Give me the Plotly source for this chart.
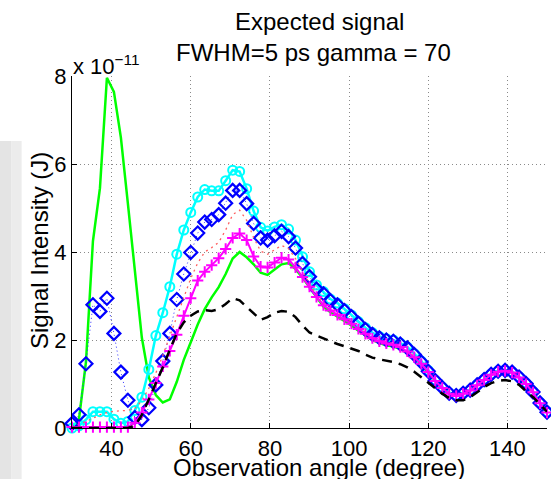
import plotly.graph_objects as go

# Observation angle (degree)
ANGLE = [30.00, 31.76, 33.53, 35.29, 37.06, 38.82, 40.59, 42.35, 44.12, 45.88,
         47.65, 49.41, 51.18, 52.94, 54.71, 56.47, 58.24, 60.00, 61.76, 63.53,
         65.29, 67.06, 68.82, 70.59, 72.35, 74.12, 75.88, 77.65, 79.41, 81.18,
         82.94, 84.71, 86.47, 88.24, 90.00, 91.76, 93.53, 95.29, 97.06, 98.82,
         100.59, 102.35, 104.12, 105.88, 107.65, 109.41, 111.18, 112.94, 114.71, 116.47,
         118.24, 120.00, 121.76, 123.53, 125.29, 127.06, 128.82, 130.59, 132.35, 134.12,
         135.88, 137.65, 139.41, 141.18, 142.94, 144.71, 146.47, 148.24, 150.00]

# Signal intensity, in units of 1e-11 J
GREEN = [0.00, 0.20, 1.50, 4.25, 5.45, 7.96, 7.64, 6.60, 5.10, 3.65,
         2.05, 1.15, 0.75, 0.58, 0.65, 1.05, 1.55, 1.95, 2.35, 2.70,
         2.97, 3.20, 3.50, 3.85, 4.00, 3.88, 3.72, 3.53, 3.48, 3.60,
         3.72, 3.75, 3.61, 3.42, 3.20, 3.00, 2.76, 2.63, 2.53, 2.43,
         2.33, 2.21, 2.10, 2.00, 1.93, 1.88, 1.85, 1.80, 1.70, 1.58,
         1.44, 1.26, 1.07, 0.91, 0.78, 0.73, 0.78, 0.85, 0.97, 1.09,
         1.21, 1.28, 1.30, 1.26, 1.15, 1.00, 0.81, 0.56, 0.35]

CYAN = [0.00, 0.05, 0.19, 0.37, 0.37, 0.37, 0.20, 0.11, 0.15, 0.40,
        0.70, 1.33, 2.10, 2.62, 3.21, 3.95, 4.50, 4.90, 5.25, 5.42,
        5.39, 5.39, 5.62, 5.86, 5.83, 5.44, 4.93, 4.56, 4.48, 4.57,
        4.62, 4.52, 4.27, 3.89, 3.55, 3.25, 3.10, 2.93, 2.84, 2.71,
        2.57, 2.42, 2.28, 2.17, 2.08, 2.03, 2.00, 1.93, 1.84, 1.69,
        1.52, 1.31, 1.09, 0.93, 0.80, 0.75, 0.80, 0.87, 0.99, 1.11,
        1.23, 1.30, 1.32, 1.28, 1.17, 1.02, 0.83, 0.58, 0.37]

BLUE = [0.10, 0.30, 1.46, 2.80, 2.65, 2.95, 2.15, 1.27, 0.63, 0.24,
        0.19, 0.46, 0.98, 1.52, 2.15, 2.92, 3.50, 3.99, 4.43, 4.68,
        4.74, 4.85, 5.11, 5.40, 5.40, 5.10, 4.65, 4.32, 4.27, 4.37,
        4.47, 4.35, 4.09, 3.74, 3.44, 3.16, 3.05, 2.89, 2.80, 2.67,
        2.53, 2.38, 2.24, 2.13, 2.05, 2.00, 1.97, 1.91, 1.82, 1.67,
        1.50, 1.29, 1.08, 0.92, 0.79, 0.74, 0.79, 0.86, 0.98, 1.10,
        1.22, 1.29, 1.31, 1.27, 1.16, 1.01, 0.82, 0.57, 0.36]

RED = [0.02, 0.08, 0.15, 0.22, 0.30, 0.35, 0.38, 0.39, 0.40, 0.45,
       0.62, 0.90, 1.25, 1.65, 2.10, 2.55, 3.00, 3.40, 3.75, 4.00,
       4.10, 4.22, 4.50, 4.85, 4.95, 4.72, 4.33, 4.02, 3.95, 4.05,
       4.15, 4.08, 3.85, 3.56, 3.28, 3.05, 2.85, 2.72, 2.63, 2.52,
       2.41, 2.29, 2.17, 2.07, 2.00, 1.95, 1.92, 1.87, 1.77, 1.63,
       1.47, 1.28, 1.07, 0.91, 0.78, 0.73, 0.78, 0.85, 0.97, 1.09,
       1.21, 1.28, 1.30, 1.26, 1.15, 1.00, 0.81, 0.56, 0.35]

MAGENTA = [0.02, 0.02, 0.02, 0.02, 0.02, 0.02, 0.02, 0.02, 0.02, 0.12,
           0.35, 0.65, 1.02, 1.40, 1.75, 2.12, 2.55, 2.95, 3.35, 3.55,
           3.70, 3.86, 4.07, 4.32, 4.42, 4.27, 3.90, 3.67, 3.65, 3.76,
           3.87, 3.83, 3.65, 3.43, 3.21, 2.98, 2.79, 2.67, 2.57, 2.47,
           2.37, 2.25, 2.14, 2.04, 1.97, 1.92, 1.89, 1.84, 1.74, 1.61,
           1.46, 1.27, 1.07, 0.91, 0.78, 0.73, 0.78, 0.85, 0.97, 1.09,
           1.21, 1.28, 1.30, 1.26, 1.15, 1.00, 0.81, 0.56, 0.35]

BLACK = [0.00, 0.00, 0.00, 0.00, 0.00, 0.00, 0.00, 0.00, 0.00, 0.05,
         0.30, 0.65, 1.00, 1.38, 1.78, 2.15, 2.40, 2.55, 2.65, 2.68,
         2.66, 2.70, 2.82, 2.95, 2.90, 2.75, 2.60, 2.46, 2.52, 2.62,
         2.66, 2.64, 2.52, 2.33, 2.17, 2.10, 2.03, 1.97, 1.91, 1.86,
         1.81, 1.75, 1.67, 1.60, 1.56, 1.53, 1.50, 1.45, 1.38, 1.28,
         1.15, 1.02, 0.90, 0.78, 0.68, 0.63, 0.63, 0.70, 0.81, 0.93,
         1.02, 1.07, 1.09, 1.06, 0.98, 0.85, 0.70, 0.54, 0.37]

X_TICKS = [40, 60, 80, 100, 120, 140]
Y_TICKS = [0, 2, 4, 6, 8]
TITLE_1 = "Expected signal"
TITLE_2 = "FWHM=5 ps gamma = 70"
X_LABEL = "Observation angle (degree)"
Y_LABEL = "Signal Intensity (J)"
EXPONENT = "x 10<sup>\u221211</sup>"

FONT = "Liberation Sans, Arial, Helvetica, sans-serif"

fig = go.Figure()
fig.add_trace(go.Scatter(x=ANGLE, y=GREEN, mode="lines",
                         line=dict(color="#00ff00", width=2.5)))
fig.add_trace(go.Scatter(x=ANGLE, y=CYAN, mode="lines+markers", cliponaxis=False,
                         line=dict(color="#00ffff", width=2.5),
                         marker=dict(symbol="circle-open", size=9, color="#00ffff",
                                     line=dict(width=2, color="#00ffff"))))
fig.add_trace(go.Scatter(x=ANGLE, y=BLUE, mode="lines+markers", cliponaxis=False,
                         line=dict(color="#3030ff", width=1, dash="1px,3px"),
                         marker=dict(symbol="diamond-open", size=10, color="#0000ff",
                                     line=dict(width=2.2, color="#0000ff"))))
fig.add_trace(go.Scatter(x=ANGLE, y=RED, mode="lines",
                         line=dict(color="#ff6060", width=1.3, dash="2px,4px")))
fig.add_trace(go.Scatter(x=ANGLE, y=MAGENTA, mode="lines+markers", cliponaxis=False,
                         line=dict(color="#ff00ff", width=2),
                         marker=dict(symbol="cross-thin-open", size=8, color="#ff00ff",
                                     line=dict(width=2, color="#ff00ff"))))
fig.add_trace(go.Scatter(x=ANGLE, y=BLACK, mode="lines",
                         line=dict(color="#000000", width=2.5, dash="10px,7px")))

axis_common = dict(
    showgrid=True, gridcolor="#8a8a8a", gridwidth=1, griddash="1px,3px",
    zeroline=False, showline=True, linecolor="black", linewidth=1.2,
    ticks="inside", ticklen=5, tickcolor="black", tickwidth=1,
    tickfont=dict(family=FONT, size=22, color="black"),
)

fig.update_layout(
    width=551, height=479, autosize=False,
    margin=dict(l=72, r=4, t=76, b=51),
    paper_bgcolor="white", plot_bgcolor="white",
    showlegend=False,
    font=dict(family=FONT, color="black"),
    xaxis=dict(range=[30, 150], tickvals=X_TICKS, ticklabelstandoff=0, **axis_common),
    yaxis=dict(range=[0, 8], tickvals=Y_TICKS, **axis_common),
    shapes=[
        dict(type="rect", xref="paper", yref="paper", x0=-0.152, x1=-0.128,
             y0=-0.15, y1=0.815, fillcolor="#e4e4e4", line=dict(width=0), layer="below"),
        dict(type="rect", xref="paper", yref="paper", x0=-0.128, x1=-0.106,
             y0=-0.15, y1=0.815, fillcolor="#ececec", line=dict(width=0), layer="below"),
    ],
    annotations=[
        dict(text=TITLE_1, xref="paper", yref="paper", x=0.52, y=1.155,
             xanchor="center", yanchor="middle", showarrow=False,
             font=dict(family=FONT, size=24, color="black")),
        dict(text=TITLE_2, xref="paper", yref="paper", x=0.509, y=1.068,
             xanchor="center", yanchor="middle", showarrow=False,
             font=dict(family=FONT, size=24, color="black")),
        dict(text=EXPONENT, xref="paper", yref="paper", x=-0.002, y=0.985,
             xanchor="left", yanchor="bottom", showarrow=False,
             font=dict(family=FONT, size=22, color="black")),
        dict(text=Y_LABEL, xref="paper", yref="paper", x=-0.067, y=0.503,
             xanchor="center", yanchor="middle", textangle=-90, showarrow=False,
             font=dict(family=FONT, size=24, color="black")),
        dict(text=X_LABEL, xref="paper", yref="paper", x=0.519, y=-0.111,
             xanchor="center", yanchor="middle", showarrow=False,
             font=dict(family=FONT, size=24, color="black")),
    ],
)

fig.write_html("out.html", config={"displayModeBar": False},
               post_script="document.body.style.margin='0';")
